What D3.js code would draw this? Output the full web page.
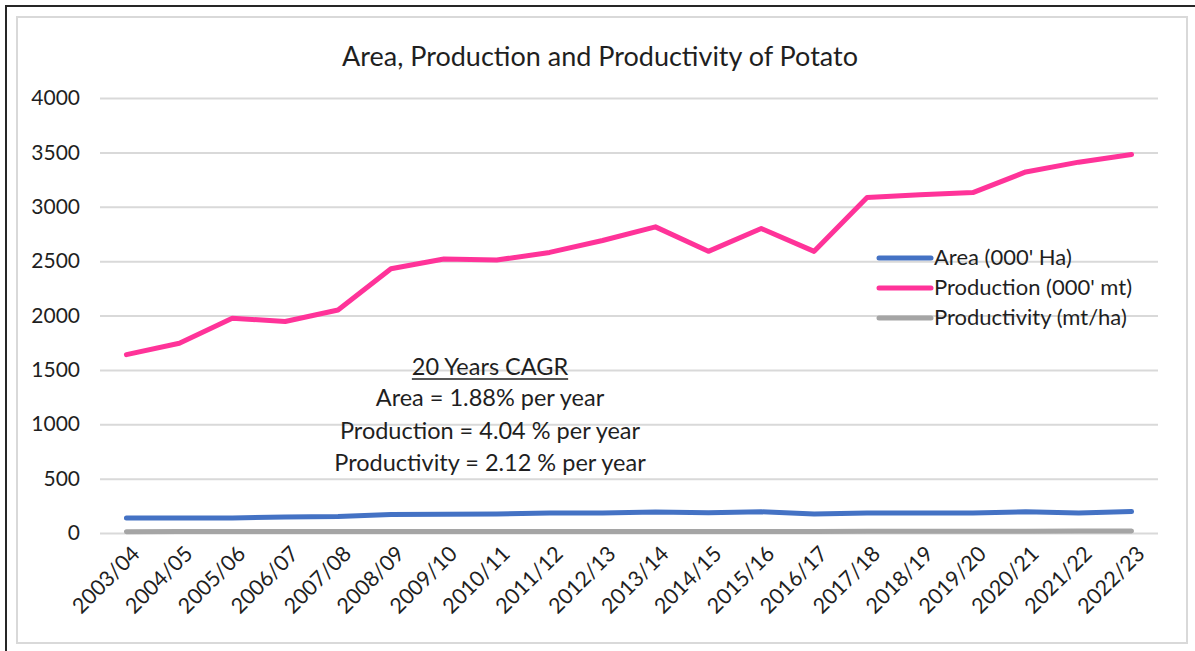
<!DOCTYPE html>
<html>
<head>
<meta charset="utf-8">
<script src="https://cdn.jsdelivr.net/npm/d3@7"></script>
<style>
  body { margin: 0; background: #fff; }
  text { font-family: Lato, "Open Sans", sans-serif; fill: #1f1f1f; }
</style>
</head>
<body>
<div id="viz"></div>
<script>
// data
var years = ["2003/04","2004/05","2005/06","2006/07","2007/08","2008/09","2009/10","2010/11","2011/12","2012/13",
             "2013/14","2014/15","2015/16","2016/17","2017/18","2018/19","2019/20","2020/21","2021/22","2022/23"];
var area = [137,137,138,148,152,170,172,175,183,185,193,186,195,175,185,185,185,195,185,197];
var production = [1640,1745,1975,1945,2050,2430,2520,2510,2580,2690,2815,2590,2800,2590,3085,3110,3130,3320,3410,3480];
var productivity = [12.0,12.7,14.3,13.1,13.5,14.3,14.7,14.3,14.1,14.5,14.6,13.9,14.4,14.8,16.7,16.8,16.9,17.0,18.4,17.7];
var yTicks = [0,500,1000,1500,2000,2500,3000,3500,4000];
var seriesNames = ["Area (000' Ha)", "Production (000' mt)", "Productivity (mt/ha)"];
var seriesColors = ["#4472C4", "#FF3399", "#A5A5A5"];
var cagrLines = ["Area = 1.88% per year", "Production = 4.04 % per year", "Productivity = 2.12 % per year"];

var W = 1195, H = 651;
var svg = d3.select("#viz").append("svg")
  .attr("width", W)
  .attr("height", H);

// frames
svg.append("rect")
  .attr("x", 6).attr("y", 6)
  .attr("width", W + 10).attr("height", H + 10)
  .attr("fill", "none").attr("stroke", "#262626").attr("stroke-width", 2);
svg.append("rect")
  .attr("x", 17).attr("y", 17)
  .attr("width", 1170).attr("height", 626)
  .attr("fill", "#fff").attr("stroke", "#d9d9d9").attr("stroke-width", 2);

var x = d3.scalePoint().domain(years).range([100, 1158]).padding(0.5);
var y = d3.scaleLinear().domain([0, 4000]).range([533, 98]);

// grid + y labels
var yAxis = svg.append("g")
  .attr("transform", "translate(100,0)")
  .call(d3.axisLeft(y).tickValues(yTicks).tickSize(-1058).tickPadding(20).tickFormat(d3.format("d")));
yAxis.select(".domain").remove();
yAxis.selectAll(".tick line").attr("stroke", "#d9d9d9").attr("stroke-width", 2);
yAxis.selectAll(".tick text").style("font-size", "21px").attr("fill", "#1f1f1f");

// x labels
var xAxis = svg.append("g")
  .attr("transform", "translate(0,533)")
  .call(d3.axisBottom(x).tickSize(0));
xAxis.select(".domain").remove();
xAxis.selectAll(".tick text")
  .style("font-size", "21.5px")
  .attr("fill", "#1f1f1f")
  .attr("text-anchor", "end")
  .attr("dy", "0")
  .attr("transform", "translate(12,20) rotate(-45)");

// lines
var line = d3.line()
  .x(function(d, i) { return x(years[i]); })
  .y(function(d) { return y(d); });

[productivity, area, production].forEach(function(vals, k) {
  var idx = [2, 0, 1][k];
  svg.append("path")
    .attr("d", line(vals))
    .attr("fill", "none")
    .attr("stroke", seriesColors[idx])
    .attr("stroke-width", 5)
    .attr("stroke-linecap", "round")
    .attr("stroke-linejoin", "round");
});

// title
svg.append("text")
  .attr("x", 600).attr("y", 66)
  .attr("text-anchor", "middle")
  .style("font-size", "27px")
  .text("Area, Production and Productivity of Potato");

// legend
var legend = svg.append("g");
seriesNames.forEach(function(name, i) {
  var ly = 258 + i * 30;
  legend.append("line")
    .attr("x1", 879).attr("x2", 931)
    .attr("y1", ly).attr("y2", ly)
    .attr("stroke", seriesColors[i]).attr("stroke-width", 5)
    .attr("stroke-linecap", "round");
  legend.append("text")
    .attr("x", 934).attr("y", ly + 7)
    .style("font-size", "22px")
    .text(name);
});

// CAGR note
var note = svg.append("g").attr("transform", "translate(490,0)");
var head = note.append("text")
  .attr("y", 375).attr("text-anchor", "middle")
  .style("font-size", "23.5px")
  .text("20 Years CAGR");
var hw = head.node().getComputedTextLength();
note.append("line")
  .attr("x1", -hw / 2).attr("x2", hw / 2)
  .attr("y1", 379).attr("y2", 379)
  .attr("stroke", "#1f1f1f").attr("stroke-width", 1.3);
cagrLines.forEach(function(t, i) {
  note.append("text")
    .attr("y", 406 + i * 32.5).attr("text-anchor", "middle")
    .style("font-size", "23.5px")
    .text(t);
});
</script>
</body>
</html>
